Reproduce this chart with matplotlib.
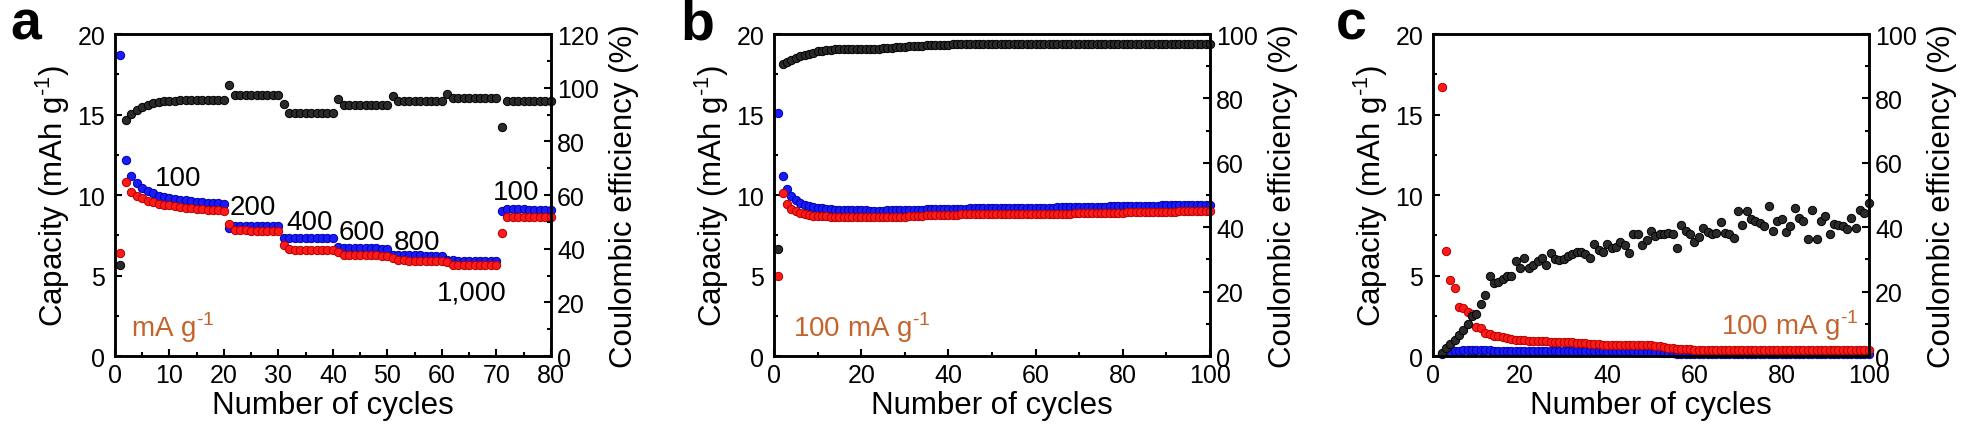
import numpy as np
import matplotlib
matplotlib.use('Agg')
import matplotlib.pyplot as plt
from matplotlib.ticker import MultipleLocator

plt.rcParams['font.family'] = ['Liberation Sans', 'DejaVu Sans']
plt.rcParams['mathtext.fontset'] = 'custom'
plt.rcParams['mathtext.rm'] = 'Liberation Sans'
plt.rcParams['axes.linewidth'] = 1.8

# ---- panel a: rate capability, cycles 1-80 ----
a_cycles = np.arange(1, 81)
a_charge = [18.7, 12.2, 11.2, 10.75, 10.45, 10.25, 10.1, 9.95, 9.88, 9.8,
            9.75, 9.7, 9.66, 9.62, 9.59, 9.56, 9.53, 9.5, 9.48, 9.45,
            7.95, 8.1, 8.1, 8.08, 8.08, 8.07, 8.07, 8.06, 8.06, 8.05,
            7.35, 7.32, 7.32, 7.31, 7.31, 7.3, 7.3, 7.3, 7.3, 7.3,
            6.75, 6.7, 6.7, 6.69, 6.69, 6.68, 6.68, 6.68, 6.67, 6.67,
            6.27, 6.26, 6.26, 6.25, 6.25, 6.25, 6.24, 6.24, 6.24, 6.24,
            5.98, 5.94, 5.93, 5.93, 5.92, 5.92, 5.92, 5.91, 5.91, 5.91,
            9.0, 9.12, 9.12, 9.11, 9.11, 9.1, 9.1, 9.1, 9.09, 9.09]
a_discharge = [6.4, 10.8, 10.2, 9.95, 9.8, 9.65, 9.55, 9.45, 9.4, 9.35,
               9.3, 9.25, 9.2, 9.18, 9.15, 9.12, 9.1, 9.08, 9.05, 9.02,
               8.2, 7.82, 7.8, 7.8, 7.79, 7.79, 7.78, 7.78, 7.78, 7.78,
               6.9, 6.62, 6.6, 6.6, 6.59, 6.59, 6.58, 6.58, 6.58, 6.58,
               6.48, 6.28, 6.27, 6.26, 6.26, 6.25, 6.25, 6.25, 6.24, 6.24,
               6.07, 5.95, 5.94, 5.93, 5.93, 5.92, 5.92, 5.92, 5.91, 5.91,
               5.86, 5.68, 5.66, 5.66, 5.65, 5.65, 5.65, 5.64, 5.64, 5.64,
               7.64, 8.65, 8.66, 8.66, 8.65, 8.65, 8.64, 8.64, 8.64, 8.63]
a_ce = [34.0, 88.0, 90.2, 91.7, 92.9, 93.5, 94.2, 94.8, 95.1, 95.2,
        95.2, 95.3, 95.3, 95.3, 95.3, 95.3, 95.3, 95.3, 95.3, 95.3,
        101.0, 97.1, 97.2, 97.2, 97.2, 97.2, 97.2, 97.2, 97.2, 97.2,
        93.9, 90.5, 90.5, 90.5, 90.5, 90.5, 90.5, 90.5, 90.5, 90.5,
        95.8, 93.4, 93.4, 93.4, 93.4, 93.4, 93.4, 93.4, 93.4, 93.4,
        97.0, 95.2, 95.2, 95.2, 95.2, 95.2, 95.2, 95.2, 95.2, 95.2,
        97.6, 96.1, 96.1, 96.1, 96.1, 96.1, 96.1, 96.1, 96.1, 96.1,
        85.2, 95.2, 95.2, 95.2, 95.2, 95.2, 95.2, 95.2, 95.2, 95.2]
a_rates = ['100', '200', '400', '600', '800', '1,000', '100']

# ---- panel b: cycling at 100 mA/g, cycles 1-100 ----
b_cycles = np.arange(1, 101)
b_charge = [15.1, 11.15, 10.35, 9.95, 9.7, 9.52, 9.4, 9.32, 9.25, 9.2,
            9.17, 9.14, 9.12, 9.1, 9.08, 9.07, 9.06, 9.05, 9.04, 9.04,
            9.04, 9.03, 9.03, 9.03, 9.03, 9.04, 9.04, 9.05, 9.05, 9.06,
            9.07, 9.08, 9.09, 9.1, 9.11, 9.12, 9.13, 9.14, 9.15, 9.15,
            9.15, 9.16, 9.16, 9.16, 9.17, 9.17, 9.17, 9.17, 9.18, 9.18,
            9.18, 9.18, 9.19, 9.19, 9.19, 9.19, 9.2, 9.2, 9.2, 9.2,
            9.21, 9.21, 9.22, 9.22, 9.23, 9.23, 9.24, 9.24, 9.25, 9.25,
            9.26, 9.26, 9.27, 9.27, 9.28, 9.28, 9.29, 9.29, 9.3, 9.3,
            9.31, 9.31, 9.32, 9.32, 9.33, 9.33, 9.34, 9.34, 9.35, 9.35,
            9.35, 9.36, 9.36, 9.36, 9.37, 9.37, 9.37, 9.38, 9.38, 9.38]
b_discharge = [5.0, 10.1, 9.45, 9.15, 8.98, 8.88, 8.8, 8.75, 8.72, 8.7,
               8.68, 8.67, 8.66, 8.65, 8.64, 8.63, 8.63, 8.62, 8.62, 8.62,
               8.62, 8.62, 8.62, 8.62, 8.62, 8.63, 8.63, 8.64, 8.65, 8.66,
               8.67, 8.69, 8.7, 8.72, 8.73, 8.74, 8.75, 8.76, 8.77, 8.78,
               8.78, 8.78, 8.79, 8.79, 8.79, 8.79, 8.8, 8.8, 8.8, 8.8,
               8.8, 8.81, 8.81, 8.81, 8.81, 8.82, 8.82, 8.82, 8.82, 8.83,
               8.83, 8.83, 8.84, 8.84, 8.84, 8.85, 8.85, 8.85, 8.86, 8.86,
               8.87, 8.87, 8.88, 8.88, 8.89, 8.89, 8.9, 8.9, 8.91, 8.91,
               8.92, 8.92, 8.93, 8.93, 8.94, 8.94, 8.95, 8.95, 8.96, 8.96,
               8.97, 8.97, 8.98, 8.98, 8.99, 8.99, 9.0, 9.0, 9.0, 9.01]
b_ce = [33.1, 90.6, 91.3, 92.0, 92.6, 93.3, 93.6, 93.9, 94.2, 94.6,
        94.8, 95.0, 95.1, 95.2, 95.3, 95.3, 95.3, 95.3, 95.3, 95.3,
        95.3, 95.4, 95.4, 95.5, 95.6, 95.7, 95.8, 95.9, 96.0, 96.1,
        96.2, 96.3, 96.3, 96.4, 96.5, 96.5, 96.6, 96.6, 96.7, 96.7,
        96.8, 96.8, 96.8, 96.8, 96.8, 96.8, 96.8, 96.8, 96.8, 96.8,
        96.8, 96.8, 96.8, 96.9, 96.9, 96.9, 96.9, 96.9, 96.9, 96.9,
        96.9, 96.9, 96.9, 96.9, 96.9, 96.9, 96.9, 96.9, 96.9, 96.9,
        96.9, 96.9, 96.9, 96.9, 96.9, 96.9, 96.9, 96.9, 96.9, 96.9,
        96.9, 96.9, 96.9, 96.9, 96.9, 96.9, 96.9, 96.9, 96.9, 96.9,
        96.9, 96.9, 96.9, 96.9, 96.9, 96.9, 96.9, 96.9, 96.9, 96.9]

# ---- panel c: cycling at 100 mA/g, cycles 2-100 ----
c_cycles = np.arange(2, 101)
c_charge = [0.15, 0.22, 0.27, 0.3, 0.32, 0.36, 0.38, 0.37, 0.36, 0.35,
            0.35, 0.35, 0.34, 0.34, 0.34, 0.34, 0.34, 0.34, 0.34, 0.34,
            0.33, 0.33, 0.33, 0.33, 0.33, 0.33, 0.33, 0.33, 0.33, 0.33,
            0.32, 0.32, 0.32, 0.32, 0.32, 0.32, 0.31, 0.31, 0.31, 0.31,
            0.3, 0.3, 0.3, 0.29, 0.29, 0.28, 0.27, 0.26, 0.25, 0.24,
            0.22, 0.2, 0.18, 0.16, 0.15, 0.14, 0.13, 0.12, 0.12, 0.12,
            0.11, 0.11, 0.11, 0.11, 0.11, 0.1, 0.1, 0.1, 0.1, 0.1,
            0.1, 0.1, 0.1, 0.1, 0.1, 0.1, 0.1, 0.1, 0.1, 0.1,
            0.1, 0.1, 0.1, 0.1, 0.1, 0.1, 0.1, 0.1, 0.1, 0.1,
            0.1, 0.1, 0.1, 0.1, 0.1, 0.1, 0.1, 0.1, 0.1]
c_discharge = [16.7, 6.5, 4.75, 4.25, 3.05, 3.0, 2.75, 2.6, 1.78, 1.72,
               1.4, 1.35, 1.25, 1.22, 1.15, 1.1, 1.05, 1.0, 1.0, 0.98,
               0.96, 0.95, 0.93, 0.92, 0.91, 0.9, 0.9, 0.89, 0.88, 0.86,
               0.84, 0.82, 0.8, 0.78, 0.76, 0.74, 0.72, 0.7, 0.69, 0.68,
               0.67, 0.66, 0.66, 0.66, 0.68, 0.7, 0.7, 0.68, 0.66, 0.64,
               0.6, 0.56, 0.52, 0.48, 0.45, 0.43, 0.42, 0.41, 0.4, 0.4,
               0.39, 0.39, 0.39, 0.39, 0.38, 0.38, 0.38, 0.38, 0.38, 0.38,
               0.38, 0.38, 0.37, 0.37, 0.37, 0.37, 0.37, 0.37, 0.37, 0.37,
               0.37, 0.37, 0.36, 0.36, 0.36, 0.36, 0.36, 0.36, 0.36, 0.36,
               0.36, 0.36, 0.36, 0.35, 0.35, 0.35, 0.35, 0.35, 0.35]
c_ce = [1.0, 2.4, 3.8, 5.0, 6.6, 8.2, 9.8, 12.5, 13.0, 16.1,
        19.0, 24.7, 22.6, 23.0, 23.8, 25.0, 24.8, 29.4, 27.3, 30.3,
        27.3, 28.3, 29.4, 30.4, 28.2, 32.1, 30.0, 29.7, 30.0, 31.0,
        31.7, 32.2, 32.3, 31.7, 30.5, 34.8, 33.0, 32.2, 34.9, 33.7,
        34.0, 35.4, 34.6, 32.0, 38.0, 38.0, 34.6, 36.0, 38.7, 37.3,
        37.8, 37.8, 38.3, 37.8, 33.7, 40.6, 38.8, 37.8, 35.3, 36.9,
        39.9, 38.5, 38.0, 38.3, 41.5, 38.3, 37.8, 36.5, 45.0, 40.6,
        45.0, 42.4, 41.9, 41.4, 40.4, 46.6, 38.8, 41.9, 42.4, 38.5,
        40.4, 46.0, 43.0, 41.9, 36.4, 45.3, 36.2, 41.9, 43.5, 37.8,
        40.9, 40.6, 40.4, 39.5, 43.0, 39.9, 45.3, 44.5, 47.6]

ORANGE = '#C4642C'
TICK_FS = 18
LABEL_FS = 22.5
SUP = '$^{\\mathregular{\u2010}\\mathregular{1}}$'


def draw_pts(ax, x, y, face, edge):
    ax.plot(x, y, linestyle='none', marker='o', ms=6.0, mfc=face, mec=edge,
            mew=0.7, clip_on=False)


def make_panel(rect, xmax, xmaj, ce_max, cyc, charge, discharge, ce):
    ax = fig.add_axes(rect)
    ax2 = ax.twinx()
    draw_pts(ax, cyc, charge, '#1a1aff', '#0000a0')
    draw_pts(ax, cyc, discharge, '#ff1a1a', '#b00000')
    draw_pts(ax2, cyc, ce, '#2a2a2a', '#000000')

    ax.set_xlim(0, xmax)
    ax.set_ylim(0, 20)
    ax2.set_ylim(0, ce_max)
    ax.xaxis.set_major_locator(MultipleLocator(xmaj))
    ax.xaxis.set_minor_locator(MultipleLocator(xmaj / 2))
    ax.yaxis.set_major_locator(MultipleLocator(5))
    ax.yaxis.set_minor_locator(MultipleLocator(2.5))
    ax2.yaxis.set_major_locator(MultipleLocator(20))
    ax2.yaxis.set_minor_locator(MultipleLocator(10))

    ax.tick_params(axis='x', which='both', direction='in', top=False, labelsize=TICK_FS, pad=5)
    ax.tick_params(axis='y', which='both', direction='in', right=False, labelsize=TICK_FS, pad=7)
    ax.tick_params(which='major', length=5, width=1.5)
    ax.tick_params(which='minor', length=3, width=1.5)
    ax2.tick_params(axis='y', which='both', direction='in', labelsize=TICK_FS, pad=4.5)
    ax2.tick_params(which='major', length=5, width=1.5)
    ax2.tick_params(which='minor', length=3, width=1.5)
    for a in (ax, ax2):
        for s in a.spines.values():
            s.set_linewidth(1.8)

    ax.set_xlabel('Number of cycles', fontsize=LABEL_FS, labelpad=2)
    ax.set_ylabel('Capacity (mAh g' + SUP + ')', fontsize=LABEL_FS, labelpad=4)
    ax2.set_ylabel('Coulombic efficiency (%)', fontsize=LABEL_FS, labelpad=7)
    return ax, ax2


fig = plt.figure(figsize=(19.61, 4.27), dpi=100)
bottom, height, width = 0.1639, 0.7541, 0.2223

ax_a, _ = make_panel([0.0586, bottom, width, height], 80, 10, 120,
                     a_cycles, a_charge, a_discharge, a_ce)
rate_pos = [(7.3, 10.6), (21.1, 8.8), (31.5, 7.9), (41.1, 7.27), (51.2, 6.65), (59.1, 3.5), (69.4, 9.75)]
for (tx, ty), s in zip(rate_pos, a_rates):
    ax_a.text(tx, ty, s, fontsize=20, ha='left', va='baseline')
ax_a.text(2.9, 1.25, 'mA g' + SUP, fontsize=20, color=ORANGE, ha='left', va='baseline')

ax_b, _ = make_panel([0.3947, bottom, width, height], 100, 20, 100,
                     b_cycles, b_charge, b_discharge, b_ce)
ax_b.text(4.4, 1.25, '100 mA g' + SUP, fontsize=20, color=ORANGE, ha='left', va='baseline')

ax_c, _ = make_panel([0.7307, bottom, width, height], 100, 20, 100,
                     c_cycles, c_charge, c_discharge, c_ce)
ax_c.text(97.7, 1.37, '100 mA g' + SUP, fontsize=20, color=ORANGE, ha='right', va='baseline')

for lx, letter in [(10, 'a'), (680, 'b'), (1336, 'c')]:
    fig.text(lx / 1961, 1 - 39 / 427, letter, fontsize=40, fontweight='bold', va='baseline')

fig.savefig('out.png', dpi=100)
